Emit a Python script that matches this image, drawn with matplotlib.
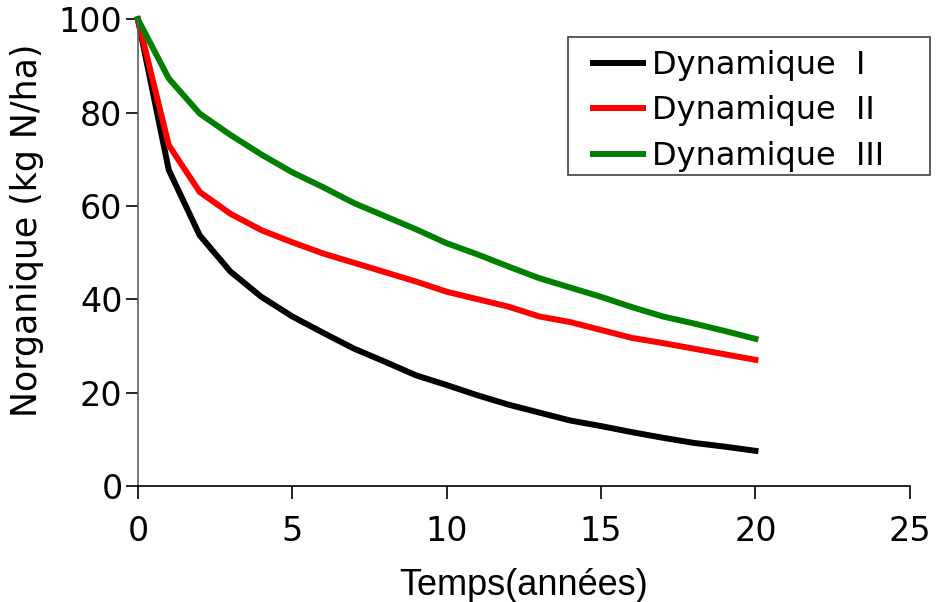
import matplotlib
matplotlib.use("Agg")
import matplotlib.pyplot as plt
from matplotlib.patches import Rectangle

# years
annees = list(range(0, 21))

# N organique (kg N/ha)
dyn_1 = [100, 67.7, 53.7, 45.9, 40.5, 36.3, 32.8, 29.4, 26.6, 23.7, 21.6,
         19.4, 17.4, 15.7, 14.0, 12.8, 11.5, 10.3, 9.2, 8.4, 7.5]
dyn_2 = [100, 73.0, 63.0, 58.3, 54.8, 52.2, 49.8, 47.8, 45.8, 43.8, 41.6,
         40.0, 38.4, 36.3, 35.1, 33.4, 31.7, 30.6, 29.4, 28.2, 27.0]
dyn_3 = [100, 87.3, 79.8, 75.2, 71.0, 67.2, 64.0, 60.6, 57.8, 55.0, 52.0,
         49.6, 47.0, 44.5, 42.5, 40.5, 38.3, 36.3, 34.8, 33.2, 31.5]

noms = ["Dynamique  I", "Dynamique  II", "Dynamique  III"]
couleurs = ["black", "#ff0000", "#008000"]

W, H = 938, 602
fig = plt.figure(figsize=(W / 100, H / 100), dpi=100)
ax = fig.add_axes([0.147, 0.193, 0.823, 0.775])

for serie, nom, c in zip([dyn_1, dyn_2, dyn_3], noms, couleurs):
    ax.plot(annees, serie, color=c, linewidth=4.3, label=nom,
            solid_joinstyle="round", clip_on=False)

ax.set_xlim(0, 25)
ax.set_ylim(0, 100)
ax.set_xticks([0, 5, 10, 15, 20, 25])
ax.set_yticks([0, 20, 40, 60, 80, 100])

ax.spines["top"].set_visible(False)
ax.spines["right"].set_visible(False)
ax.spines["left"].set_color("#606060")
ax.spines["left"].set_linewidth(1.2)
ax.spines["bottom"].set_linewidth(1.2)
ax.tick_params(direction="out", length=9, width=1.2, labelsize=24, pad=2)
ax.tick_params(axis="x", pad=12)

ax.set_ylabel("Norganique (kg N/ha)", fontsize=25)
ax.yaxis.set_label_coords(-0.122, 0.548)
ax.set_xlabel("Temps(années)", fontsize=26, family="Liberation Sans")
ax.xaxis.set_label_coords(0.5, -0.176)

# legend box drawn separately so the padding matches the original
fig.patches.append(Rectangle((568 / W, 1 - 175 / H), 362 / W, 138 / H,
                             transform=fig.transFigure, fill=False,
                             edgecolor="#404040", linewidth=1.2, zorder=5))
leg = ax.legend(loc="upper left", bbox_to_anchor=(593 / W, 1 - 50 / H),
                bbox_transform=fig.transFigure,
                fontsize=23, frameon=False,
                handlelength=1.57, handletextpad=0.28,
                borderpad=0, labelspacing=0.45, borderaxespad=0)

fig.savefig("out.png", dpi=100)
